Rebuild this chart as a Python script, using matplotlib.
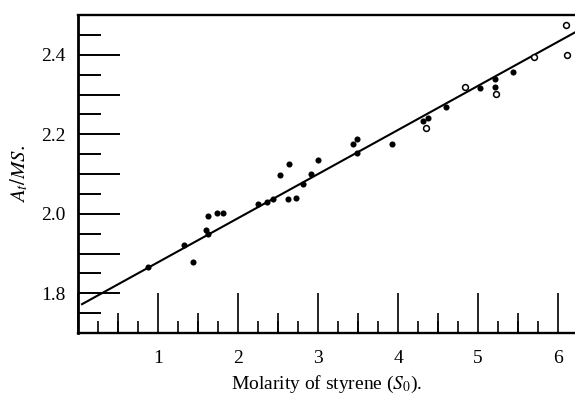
import numpy as np
import matplotlib
matplotlib.use('Agg')
import matplotlib.pyplot as plt
from matplotlib.ticker import MultipleLocator, FuncFormatter

plt.rcParams['font.family'] = ['Liberation Serif', 'DejaVu Serif']
plt.rcParams['mathtext.fontset'] = 'stix'

# filled points
x_filled = [0.88, 1.32, 1.44, 1.60, 1.62, 1.63, 1.74, 1.81, 2.25, 2.36, 2.44, 2.53,
            2.62, 2.64, 2.72, 2.81, 2.91, 3.00, 3.43, 3.49, 3.49, 3.92, 4.31, 4.37,
            4.60, 5.02, 5.21, 5.21, 5.44]
y_filled = [1.866, 1.921, 1.879, 1.958, 1.950, 1.994, 2.003, 2.003, 2.024, 2.030, 2.038, 2.097,
            2.038, 2.126, 2.040, 2.076, 2.099, 2.136, 2.175, 2.187, 2.152, 2.175, 2.234, 2.240,
            2.269, 2.316, 2.339, 2.318, 2.357]

# open points
x_open = [4.35, 4.83, 5.22, 5.70, 6.10, 6.11]
y_open = [2.215, 2.318, 2.301, 2.395, 2.474, 2.400]

# fitted line
fit_intercept = 1.767
fit_slope = 0.111
fit_x = [0.05, 6.21]

fig = plt.figure(figsize=(5.75, 3.98), dpi=100)
ax = fig.add_axes([0.1357, 0.1633, 0.8643, 0.7990])

xs = np.array(fit_x)
ax.plot(xs, fit_intercept + fit_slope * xs, color='black', lw=1.5)
ax.plot(x_filled, y_filled, 'o', color='black', ms=4.4, mew=0)
ax.plot(x_open, y_open, 'o', mfc='white', mec='black', ms=4.2, mew=1.1)

ax.set_xlim(0, 6.21)
ax.set_ylim(1.7, 2.5)

ax.spines['right'].set_visible(False)
ax.spines['top'].set_linewidth(1.7)
ax.spines['left'].set_linewidth(2.0)
ax.spines['bottom'].set_linewidth(1.7)

# y ticks: long every 0.1 (labels every 0.2), short every 0.05
ax.yaxis.set_major_locator(MultipleLocator(0.1))
ax.yaxis.set_minor_locator(MultipleLocator(0.05))
ax.yaxis.set_major_formatter(FuncFormatter(
    lambda v, p: f'{v:.1f}' if abs(round(v * 10) % 2) == 0 else ''))
ax.tick_params(axis='y', which='major', direction='in', length=30, width=1.4,
               labelsize=14, pad=9)
ax.tick_params(axis='y', which='minor', direction='in', length=16.5, width=1.4)

# x ticks: integers long, quarters short, halves medium
ax.xaxis.set_major_locator(MultipleLocator(1))
ax.xaxis.set_minor_locator(MultipleLocator(0.25))
ax.xaxis.set_major_formatter(FuncFormatter(lambda v, p: f'{int(v)}' if v > 0 else ''))
ax.tick_params(axis='x', which='major', direction='in', length=29, width=1.2,
               labelsize=14, pad=12)
ax.tick_params(axis='x', which='minor', direction='in', length=8.6, width=1.2)

sec = ax.secondary_xaxis('bottom')
sec.set_xticks(np.arange(0.5, 6.2, 1.0))
sec.tick_params(direction='in', length=14.5, width=1.2, labelbottom=False)
sec.spines['bottom'].set_visible(False)

ax.set_xlabel('Molarity of styrene ($S_0$).', fontsize=14, labelpad=5)
ax.set_ylabel('$A_t/MS.$', fontsize=15, labelpad=8)

fig.savefig('out.png', dpi=100)
